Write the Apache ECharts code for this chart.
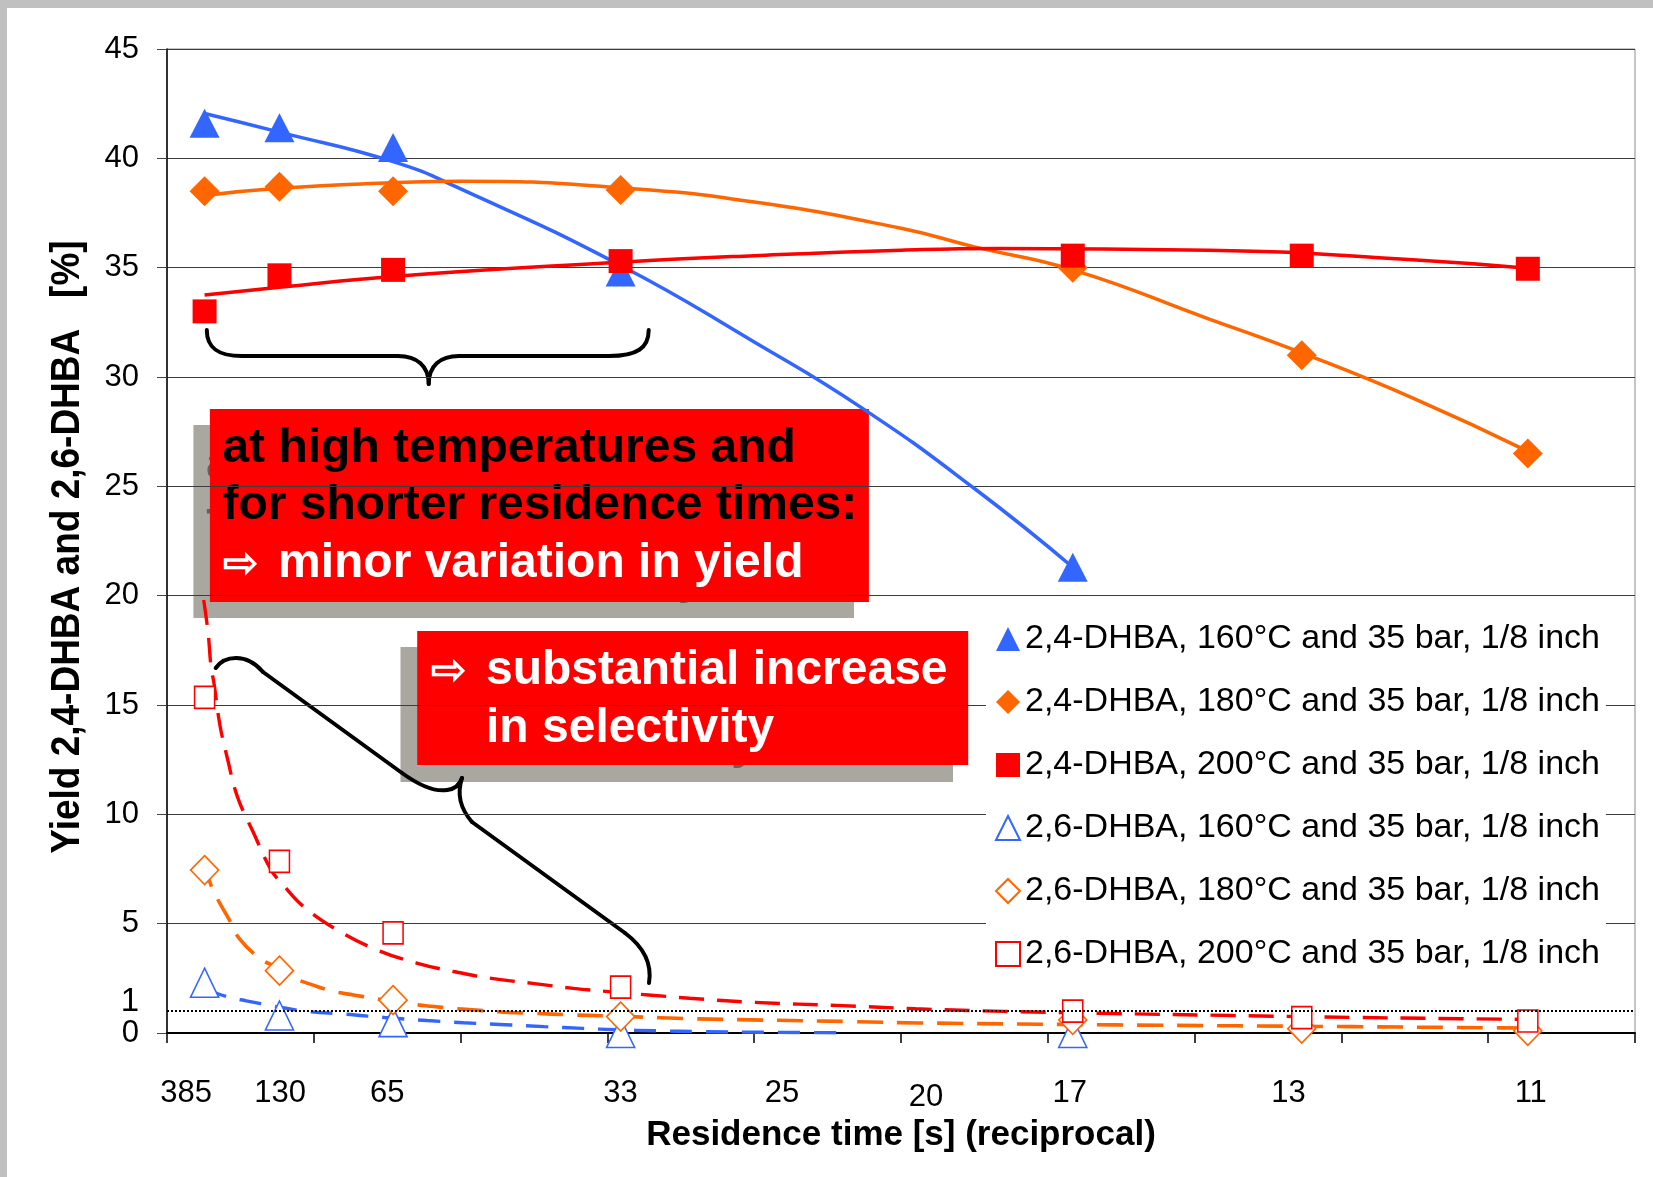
<!DOCTYPE html>
<html>
<head>
<meta charset="utf-8">
<script src="https://cdn.jsdelivr.net/npm/echarts@6/dist/echarts.min.js"></script>
<style>
html,body{margin:0;padding:0;background:#fff;}
#chart{width:1653px;height:1177px;}
</style>
</head>
<body>
<div id="chart"></div>
<script>
// ---------------- DATA ----------------
// x positions: reciprocal residence time [1/s] of the measured points (385,130,65,33,17,13,11 s)
const xRecip = [0.00256, 0.00766, 0.0154, 0.0309, 0.0617, 0.0773, 0.0927];

// tick labels (residence time in s) and their reciprocal positions
const residenceLabels = ['385', '130', '65', '33', '25', '20', '17', '13', '11'];
const residenceLabelPos = [0.0013, 0.0077, 0.0150, 0.0309, 0.0419, 0.0517, 0.0615, 0.0764, 0.0929];

// y-axis labels
const yLabelValues = [0, 5, 10, 15, 20, 25, 30, 35, 40, 45];
const yLabelExtra = [1];
const refLineY = 1;

// measured yields [%]
const dhba24_160 = [41.6, 41.4, 40.5, 34.8, 21.3];
const dhba24_180 = [38.5, 38.7, 38.5, 38.55, 35.0, 31.0, 26.5];
const dhba24_200 = [33.0, 34.65, 34.9, 35.3, 35.55, 35.55, 34.95];
const dhba26_160 = [2.3, 0.8, 0.5, 0.0, 0.0];
const dhba26_180 = [7.45, 2.85, 1.5, 0.75, 0.6, 0.2, 0.1];
const dhba26_200 = [15.35, 7.85, 4.58, 2.1, 1.0, 0.7, 0.55];

// trend lines: [reciprocal time, yield]
const trend24_160 = [[0.00256,42.05],[0.00766,41.2],[0.0154,39.85],[0.02,38.6],[0.0309,35.1],[0.04,31.6],[0.0473,28.6],[0.055,24.9],[0.0617,21.3]];
const trend24_180 = [[0.00256,38.3],[0.00766,38.63],[0.0154,38.88],[0.02,38.95],[0.0309,38.65],[0.04,38.0],[0.05,36.8],[0.055,35.95],[0.0617,34.9],[0.0709,32.67],[0.0773,31.1],[0.0851,28.97],[0.0927,26.6]];
const trend24_200 = [[0.00256,33.75],[0.00766,34.1],[0.0154,34.6],[0.0309,35.25],[0.04,35.55],[0.05,35.8],[0.0567,35.88],[0.0709,35.8],[0.0851,35.35],[0.0927,34.97]];
const trend26_160 = [[0.0026,2.0],[0.0041,1.66],[0.0054,1.47],[0.0069,1.28],[0.0081,1.13],[0.0096,0.98],[0.0122,0.86],[0.0148,0.71],[0.0177,0.57],[0.0202,0.47],[0.023,0.38],[0.0257,0.29],[0.0283,0.21],[0.0306,0.15],[0.0333,0.1],[0.0365,0.06],[0.041,0.03],[0.0465,0.01]];
const trend26_180 = [[0.00255,7.84],[0.0029,6.94],[0.0034,6.18],[0.0043,5.11],[0.0049,4.34],[0.0063,3.42],[0.0075,3.0],[0.0087,2.5],[0.0099,2.2],[0.0114,1.89],[0.0127,1.74],[0.014,1.59],[0.0154,1.44],[0.0169,1.3],[0.018,1.22],[0.0194,1.13],[0.0208,1.06],[0.0222,0.99],[0.0233,0.94],[0.025,0.9],[0.0275,0.83],[0.03,0.78],[0.0336,0.7],[0.0358,0.65],[0.0468,0.52],[0.0512,0.46],[0.0647,0.37],[0.0808,0.29],[0.09,0.24],[0.0927,0.23]];
const trend26_200 = [[0.0025,19.8],[0.0028,18.3],[0.003,16.75],[0.0032,16.0],[0.0036,14.1],[0.0041,12.6],[0.0048,10.8],[0.0059,9.15],[0.0071,7.45],[0.008,6.7],[0.0093,5.78],[0.0116,4.71],[0.0143,3.8],[0.017,3.2],[0.0196,2.8],[0.0221,2.5],[0.0249,2.27],[0.0277,2.04],[0.0301,1.89],[0.0328,1.74],[0.0356,1.59],[0.04,1.4],[0.046,1.25],[0.051,1.11],[0.055,1.02],[0.059,0.96],[0.0645,0.89],[0.0725,0.8],[0.081,0.71],[0.086,0.67],[0.0927,0.62]];

const seriesNames = [
  '2,4-DHBA, 160°C and 35 bar, 1/8 inch',
  '2,4-DHBA, 180°C and 35 bar, 1/8 inch',
  '2,4-DHBA, 200°C and 35 bar, 1/8 inch',
  '2,6-DHBA, 160°C and 35 bar, 1/8 inch',
  '2,6-DHBA, 180°C and 35 bar, 1/8 inch',
  '2,6-DHBA, 200°C and 35 bar, 1/8 inch'
];

// ---------------- STYLE ----------------
const FONT = "'Liberation Sans', Arial, Helvetica, sans-serif";
const BLUE = '#3366ff', ORANGE = '#ff6600', RED = '#ff0000';

function pts(vals) { return vals.map((v, i) => [xRecip[i], v]); }

function trend(data, color, width, dash, smooth) {
  return {
    type: 'line', data: data, symbol: 'none', showSymbol: false, smooth: smooth,
    silent: true, z: 2, yAxisIndex: 0,
    lineStyle: { color: color, width: width, type: dash || 'solid', cap: 'butt' }
  };
}
function marker(name, vals, symbol, size, fill, stroke) {
  return {
    type: 'scatter', name: name, data: pts(vals), symbol: symbol, symbolSize: size, z: 3, yAxisIndex: 0,
    itemStyle: stroke ? { color: '#fff', borderColor: stroke, borderWidth: 1.6, opacity: 1 } : { color: fill, opacity: 1 }
  };
}

// brace drawing helpers (annotation shapes, pixel space)
const braceStyle = { fill: 'none', stroke: '#000', lineWidth: 4, lineCap: 'round', lineJoin: 'round' };
function bz(a, c1, c2, b) {
  return { type: 'bezierCurve', shape: { x1: a[0], y1: a[1], cpx1: c1[0], cpy1: c1[1], cpx2: c2[0], cpy2: c2[1], x2: b[0], y2: b[1] }, style: braceStyle };
}
function ln(a, b) {
  return { type: 'line', shape: { x1: a[0], y1: a[1], x2: b[0], y2: b[1] }, style: braceStyle };
}

const chart = echarts.init(document.getElementById('chart'), null, { renderer: 'canvas' });

const line1 = trend(trend24_160, BLUE, 3.5, null, 0.5);
line1.markLine = {
  silent: true, symbol: ['none', 'none'], label: { show: false },
  lineStyle: { color: '#000', type: [2, 2], width: 2 },
  data: [{ yAxis: refLineY }], animation: false
};

const option = {
  animation: false,
  backgroundColor: '#fff',
  textStyle: { fontFamily: FONT },
  grid: { left: 167, top: 49, width: 1468, height: 984, show: true, borderColor: '#8c8c8c', borderWidth: 1, backgroundColor: 'transparent' },
  xAxis: {
    type: 'value', min: 0, max: 0.1, interval: 0.01,
    axisLine: { show: true, onZero: false, lineStyle: { color: '#000', width: 2 } },
    axisTick: { show: true, length: 10, lineStyle: { color: '#000', width: 1.5 } },
    splitLine: { show: false },
    axisLabel: {
      customValues: residenceLabelPos, margin: 45, fontSize: 31, color: '#000', fontFamily: FONT,
      showMinLabel: true, showMaxLabel: true,
      formatter: function (v) {
        let i = residenceLabelPos.findIndex(p => Math.abs(p - v) < 1e-7);
        const t = residenceLabels[i];
        return t === '20' ? '{low|20}' : t;
      },
      rich: { low: { padding: [4, 0, 0, 0], fontSize: 31, color: '#000', fontFamily: FONT } }
    },
    name: 'Residence time [s] (reciprocal)', nameLocation: 'middle', nameGap: 79,
    nameTextStyle: { fontSize: 35, fontWeight: 'bold', color: '#000', fontFamily: FONT }
  },
  yAxis: [
    {
      type: 'value', min: 0, max: 45, interval: 5,
      axisLine: { show: true, onZero: false, lineStyle: { color: '#000', width: 1.5 } },
      axisTick: { show: true, length: 10, lineStyle: { color: '#444', width: 1 } },
      splitLine: { show: true, lineStyle: { color: '#3c3c3c', width: 1 } },
      axisLabel: {
        customValues: yLabelValues, margin: 28, fontSize: 31, color: '#000', fontFamily: FONT,
        showMinLabel: true, showMaxLabel: true
      }
    },
    {
      type: 'value', min: 0, max: 45, interval: 5, position: 'left', offset: 0,
      axisLine: { show: false }, axisTick: { show: false }, splitLine: { show: false },
      axisLabel: {
        customValues: yLabelExtra, margin: 28, fontSize: 33, color: '#000', fontFamily: FONT,
        showMinLabel: true, showMaxLabel: true,
        formatter: function (v) { return '{one|' + v + '}'; },
        rich: { one: { fontSize: 33, padding: [0, 0, 19, 0], color: '#000', fontFamily: FONT } }
      }
    }
  ],
  legend: {
    orient: 'vertical', left: 986, top: 604, padding: [18, 6, 15, 9],
    backgroundColor: '#fff', itemWidth: 24, itemHeight: 24, itemGap: 29, selectedMode: false,
    textStyle: { fontSize: 34, lineHeight: 34, color: '#000', fontFamily: FONT },
    data: seriesNames, z: 5
  },
  series: [
    line1,
    trend(trend24_180, ORANGE, 3.5, null, 0.5),
    trend(trend24_200, RED, 3.5, null, 0.5),
    trend(trend26_160, BLUE, 3.4, [22, 14], 0.4),
    trend(trend26_180, ORANGE, 3.6, [26, 14], 0.4),
    trend(trend26_200, RED, 3.4, [25, 13], 0.4),
    marker(seriesNames[0], dhba24_160, 'triangle', [30, 29], BLUE),
    marker(seriesNames[1], dhba24_180, 'diamond', [30, 30], ORANGE),
    marker(seriesNames[2], dhba24_200, 'rect', [24, 24], RED),
    marker(seriesNames[3], dhba26_160, 'triangle', [28, 29], null, BLUE),
    marker(seriesNames[4], dhba26_180, 'diamond', [28, 29], null, ORANGE),
    marker(seriesNames[5], dhba26_200, 'rect', [20, 22], null, RED)
  ],
  graphic: [
    // outer frame bands
    { type: 'rect', shape: { x: 0, y: 0, width: 1653, height: 8 }, style: { fill: '#c0c0c0' }, z: 20, silent: true },
    { type: 'rect', shape: { x: 0, y: 0, width: 7, height: 1177 }, style: { fill: '#c0c0c0' }, z: 20, silent: true },
    // y axis title
    { type: 'text', x: 68, y: 547, rotation: Math.PI / 2, scaleY: 1.12, z: 20, silent: true,
      style: { text: 'Yield 2,4-DHBA and 2,6-DHBA   [%]', font: 'bold 37px ' + FONT, fill: '#000', align: 'center', verticalAlign: 'middle' } },

    // ----- annotation box 1 -----
    { type: 'group', z: -1, silent: true, children: [
      { type: 'rect', shape: { x: 193.4, y: 425, width: 660.6, height: 193 }, style: { fill: '#aaa7a1' } },
      { type: 'text', x: 205.9, y: 464.7, style: { text: 'at high temperatures and', font: 'bold 48px ' + FONT, fill: '#65615d', verticalAlign: 'middle' } },
      { type: 'text', x: 205.9, y: 521.4, style: { text: 'for shorter residence times:', font: 'bold 48px ' + FONT, fill: '#65615d', verticalAlign: 'middle' } },
      { type: 'text', x: 261.5, y: 579.7, style: { text: 'minor variation in yield', font: 'bold 48px ' + FONT, fill: '#65615d', verticalAlign: 'middle' } }
    ] },
    { type: 'group', z: 30, silent: true, children: [
      { type: 'rect', shape: { x: 209.9, y: 409, width: 659, height: 193 }, style: { fill: RED } },
      { type: 'text', x: 222.4, y: 448.7, style: { text: 'at high temperatures and', font: 'bold 48px ' + FONT, fill: '#000', verticalAlign: 'middle' } },
      { type: 'text', x: 222.4, y: 505.4, style: { text: 'for shorter residence times:', font: 'bold 48px ' + FONT, fill: '#000', verticalAlign: 'middle' } },
      { type: 'text', x: 223, y: 565, style: { text: '\u21E8', font: 'bold 42px ' + FONT, fill: '#fff', verticalAlign: 'middle' } },
      { type: 'text', x: 278, y: 563.7, style: { text: 'minor variation in yield', font: 'bold 48px ' + FONT, fill: '#fff', verticalAlign: 'middle' } }
    ] },

    // ----- annotation box 2 -----
    { type: 'group', z: -1, silent: true, children: [
      { type: 'rect', shape: { x: 400.5, y: 647, width: 552.5, height: 135 }, style: { fill: '#aaa7a1' } },
      { type: 'text', x: 469.5, y: 686.4, style: { text: 'substantial increase', font: 'bold 48px ' + FONT, fill: '#65615d', verticalAlign: 'middle' } },
      { type: 'text', x: 469.5, y: 744.7, style: { text: 'in selectivity', font: 'bold 48px ' + FONT, fill: '#65615d', verticalAlign: 'middle' } }
    ] },
    { type: 'group', z: 30, silent: true, children: [
      { type: 'rect', shape: { x: 417.2, y: 631, width: 551, height: 134 }, style: { fill: RED } },
      { type: 'text', x: 430.5, y: 672, style: { text: '\u21E8', font: 'bold 42px ' + FONT, fill: '#fff', verticalAlign: 'middle' } },
      { type: 'text', x: 486, y: 670.4, style: { text: 'substantial increase', font: 'bold 48px ' + FONT, fill: '#fff', verticalAlign: 'middle' } },
      { type: 'text', x: 486, y: 728.7, style: { text: 'in selectivity', font: 'bold 48px ' + FONT, fill: '#fff', verticalAlign: 'middle' } }
    ] },

    // ----- braces -----
    { type: 'group', z: 40, silent: true, children: [
      bz([206.8, 330], [206.8, 348], [218, 356], [242, 356]),
      ln([242, 356], [398, 356]),
      bz([398, 356], [417, 356], [428.7, 366], [428.7, 384]),
      bz([428.7, 384], [428.7, 366], [440, 356], [459, 356]),
      ln([459, 356], [609, 356]),
      bz([609, 356], [637, 356], [648.7, 348], [648.7, 330])
    ] },
    { type: 'group', z: 40, silent: true, children: [
      bz([215.7, 668], [224, 656], [246, 652], [263, 672]),
      ln([263, 672], [402, 773]),
      bz([402, 773], [420, 786], [435, 792], [447, 790]),
      bz([447, 790], [455, 789], [460, 784], [462, 778]),
      bz([462, 778], [458, 790], [458, 806], [472, 822]),
      ln([472, 822], [625, 933]),
      bz([625, 933], [645, 948], [652, 965], [649, 983])
    ] }
  ]
};

chart.setOption(option);
</script>
</body>
</html>
